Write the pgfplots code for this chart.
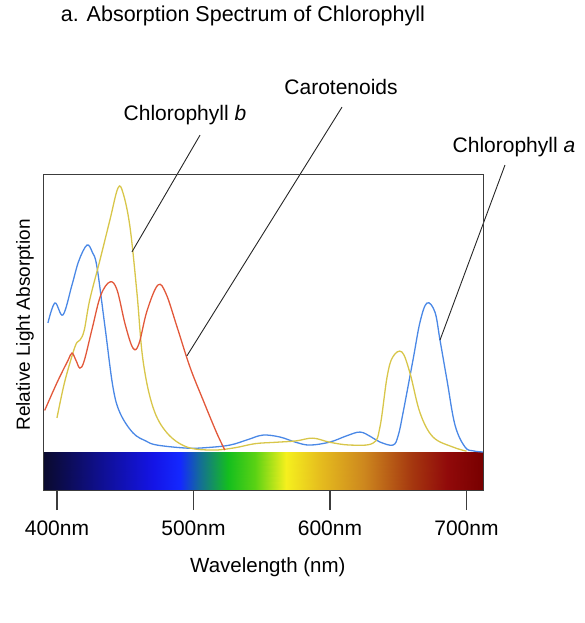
\documentclass[border=0pt]{standalone}
\usepackage{fontspec}
\setmainfont{Liberation Sans}
\usepackage{pgfplots}
\pgfplotsset{compat=1.18}

\definecolor{chla}{HTML}{4A88E6}
\definecolor{chlb}{HTML}{D8C64A}
\definecolor{carot}{HTML}{E2583A}
\definecolor{boxcol}{HTML}{3C3C3C}

\begin{document}
\begin{tikzpicture}
\path[use as bounding box] (-44pt,-133pt) rectangle (540pt,490pt);
\begin{axis}[
    scale only axis,
    width=439pt, height=315pt,
    xmin=390.5, xmax=712.1,
    ymin=-0.1372, ymax=1,
    clip=false,
    axis on top,
    axis line style={draw=boxcol, line width=1pt},
    xtick={400,500,600,700},
    xticklabels={400nm,500nm,600nm,700nm},
    xtick pos=bottom,
    ytick=\empty,
    tick align=outside,
    major tick length=20pt,
    every tick/.style={draw=boxcol, line width=1.2pt},
    xticklabel style={font=\fontsize{21}{24}\selectfont, anchor=center, yshift=-18pt},
    xlabel={Wavelength (nm)},
    xlabel style={font=\fontsize{20.5}{24}\selectfont, at={(axis description cs:0.510,-0.2444)}, anchor=center},
    ylabel={Relative Light Absorption},
    ylabel style={font=\fontsize{19}{22}\selectfont, at={(axis description cs:-0.0433,0.524)}, anchor=center, rotate=0},
    title={a. Absorption Spectrum of Chlorophyll},
    title style={font=\fontsize{21.5}{24}\selectfont, at={(axis description cs:0.453,1.486)}, anchor=center},
    colormap={spec}{rgb255(390pt)=(10,10,45) rgb255(430pt)=(15,15,140) rgb255(470pt)=(20,20,230) rgb255(490pt)=(20,40,255) rgb255(505pt)=(20,110,150) rgb255(525pt)=(20,190,30) rgb255(545pt)=(90,210,20) rgb255(568pt)=(245,240,30) rgb255(592pt)=(230,190,30) rgb255(625pt)=(205,135,30) rgb255(660pt)=(165,55,15) rgb255(686pt)=(145,10,10) rgb255(712pt)=(120,0,0)},
    point meta min=390, point meta max=712,
]
% spectrum bar
\addplot[patch, patch type=rectangle, shader=interp, point meta=x] coordinates {
(390.5,-0.1372) (430,-0.1372) (430,0) (390.5,0)
(430,-0.1372) (470,-0.1372) (470,0) (430,0)
(470,-0.1372) (490,-0.1372) (490,0) (470,0)
(490,-0.1372) (505,-0.1372) (505,0) (490,0)
(505,-0.1372) (525,-0.1372) (525,0) (505,0)
(525,-0.1372) (545,-0.1372) (545,0) (525,0)
(545,-0.1372) (568,-0.1372) (568,0) (545,0)
(568,-0.1372) (592,-0.1372) (592,0) (568,0)
(592,-0.1372) (625,-0.1372) (625,0) (592,0)
(625,-0.1372) (660,-0.1372) (660,0) (625,0)
(660,-0.1372) (686,-0.1372) (686,0) (660,0)
(686,-0.1372) (712.1,-0.1372) (712.1,0) (686,0)
};

% Chlorophyll a
\addplot[chla, line width=1.3pt, smooth, tension=0.6] coordinates {
(393.4,0.466) (398.5,0.538) (404.4,0.495) (411,0.603) (416,0.69) (422,0.747)
(426,0.72) (429.3,0.668) (435.2,0.451) (441,0.235) (446.2,0.141) (455.7,0.069)
(465,0.040) (473.3,0.025) (495.2,0.014) (510,0.016) (526.7,0.025) (540,0.045)
(550.9,0.061) (563.4,0.054) (575,0.035) (585.3,0.025) (600,0.036) (612,0.058)
(622,0.072) (630,0.055) (636.6,0.036) (646.2,0.025) (650,0.06) (653.5,0.141)
(660.8,0.332) (666,0.47) (671.1,0.538) (676.9,0.505) (680.6,0.404) (685.7,0.26)
(691.6,0.097) (698.9,0.018) (705,0.004) (712,0)
};

% Chlorophyll b
\addplot[chlb, line width=1.3pt, smooth, tension=0.6] coordinates {
(400,0.123) (405,0.24) (410,0.33) (414,0.39) (417,0.405) (420,0.44) (424,0.549)
(431.5,0.693) (438.8,0.838) (444.7,0.953) (448.4,0.935) (453.5,0.812)
(458.6,0.574) (463,0.332) (470.3,0.162) (480.6,0.069) (495.2,0.018) (514,0.007)
(530,0.015) (545,0.03) (560,0.035) (575,0.04) (587.5,0.05) (600,0.035)
(615,0.025) (631.5,0.032) (636.6,0.09) (641.8,0.27) (646,0.343) (652.7,0.361)
(658.6,0.285) (666,0.141) (675.5,0.054) (690,0.018) (700,0.003)
};

% Carotenoids
\addplot[carot, line width=1.3pt, smooth, tension=0.6] coordinates {
(391,0.15) (400,0.25) (408,0.33) (411,0.357) (414,0.33) (416.8,0.303) (420,0.33)
(426,0.45) (432,0.565) (438.8,0.614) (444,0.585) (450,0.46) (455.7,0.375)
(460,0.39) (466,0.51) (474,0.603) (480,0.57) (488,0.451) (497.4,0.307)
(507,0.188) (517,0.069) (523,0.007)
};

% annotations
\draw[black!85, line width=0.9pt] (axis cs:504.8,1.144) -- (axis cs:454.9,0.722);
\draw[black!85, line width=0.9pt] (axis cs:608.8,1.245) -- (axis cs:495.2,0.347);
\draw[black!85, line width=0.9pt] (axis cs:728.2,1.036) -- (axis cs:680.6,0.404);
\node[font=\fontsize{21}{24}\selectfont] at (axis cs:493.8,1.217) {Chlorophyll \textit{b}};
\node[font=\fontsize{21}{24}\selectfont] at (axis cs:608.1,1.318) {Carotenoids};
\node[font=\fontsize{21}{24}\selectfont] at (axis cs:734.8,1.101) {Chlorophyll \textit{a}};
\end{axis}
\end{tikzpicture}
\end{document}
